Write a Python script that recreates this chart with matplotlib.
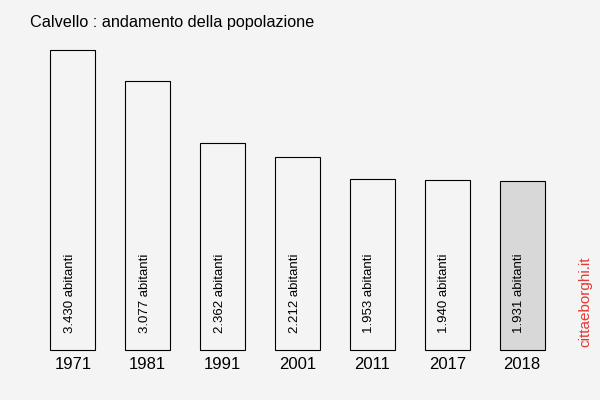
import matplotlib
matplotlib.use("Agg")
import matplotlib.pyplot as plt

plt.rcParams["font.family"] = ["Liberation Sans", "DejaVu Sans"]

anni = ["1971", "1981", "1991", "2001", "2011", "2017", "2018"]
abitanti = [3430, 3077, 2362, 2212, 1953, 1940, 1931]
etichette = ["3.430 abitanti", "3.077 abitanti", "2.362 abitanti", "2.212 abitanti",
             "1.953 abitanti", "1.940 abitanti", "1.931 abitanti"]

bg = "#f4f4f4"
fig = plt.figure(figsize=(6, 4), dpi=100, facecolor=bg)
ax = fig.add_axes([35.5 / 600, 50 / 400, 524 / 600, 300 / 400])
ax.set_facecolor(bg)

colori = [bg] * (len(anni) - 1) + ["#d8d8d8"]
x = range(len(anni))
bars = ax.bar(x, abitanti, width=0.6, color=colori, edgecolor="black", linewidth=0.8)
for b in bars:
    b.set_clip_on(False)
for i, lab in zip(x, etichette):
    ax.text(i - 0.04, 195, lab, rotation=90, ha="center", va="bottom", fontsize=9.5)

ax.set_xlim(-0.5, len(anni) - 0.5)
ax.set_ylim(0, max(abitanti))
ax.set_xticks(list(x))
ax.set_xticklabels(anni, fontsize=12)
ax.tick_params(length=0, pad=5)
ax.set_yticks([])
for s in ax.spines.values():
    s.set_visible(False)

fig.text(30 / 600, 1 - 22 / 400, "Calvello : andamento della popolazione",
         fontsize=11.7, ha="left", va="center")
fig.text(585 / 600, 1 - 302 / 400, "cittaeborghi.it", rotation=90, color="#e53935",
         fontsize=11, ha="center", va="center")

fig.savefig("out.png", dpi=100, facecolor=bg)
